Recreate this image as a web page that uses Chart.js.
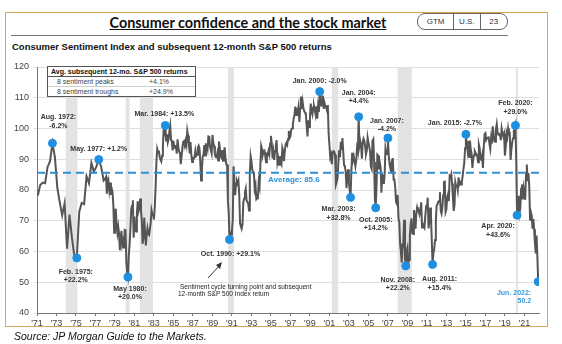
<!DOCTYPE html>
<html>
<head>
<meta charset="utf-8">
<script src="https://cdn.jsdelivr.net/npm/chart.js@4"></script>
<style>
  body { margin: 0; background: #fff; width: 562px; height: 344px; overflow: hidden; position: relative; font-family: "Liberation Sans", Arial, sans-serif; }
  #frame { position: absolute; left: 5px; top: 12px; width: 541px; height: 313px; border: 1.5px solid #d9a660; }
  #title { position: absolute; left: 0; width: 496px; top: 14px; text-align: center; font-family: Lato, sans-serif; font-weight: bold; font-size: 14.4px; text-decoration: underline; color: #111; }
  #rule { position: absolute; left: 11px; top: 35px; width: 497px; height: 0; border-top: 1px solid #777; }
  #pill { position: absolute; left: 417px; top: 13px; width: 89px; height: 15px; border: 1px solid #666; border-radius: 8px; display: flex; font-size: 8px; color: #333; }
  #pill div { display: flex; align-items: center; justify-content: center; }
  #subtitle { position: absolute; left: 12px; top: 41px; font-weight: bold; font-size: 9.5px; color: #111; }
  #source { position: absolute; left: 14px; top: 330px; font-style: italic; font-size: 10.5px; color: #111; }
  #tbl { position: absolute; left: 47px; top: 66px; width: 147px; border: 1px solid #555; background: #fff; font-size: 7px; color: #444; z-index: 2; }
  #tbl .hd { font-weight: bold; padding: 1px 3px; border-bottom: 1px solid #555; color: #111; }
  #tbl .row { display: flex; padding: 1px 0 1px 9px; }
  #tbl .row + .row { border-top: 1px solid #ccc; }
  #tbl .row span:first-child { width: 92px; }
  #chart { position: absolute; left: 0; top: 0; }
</style>
</head>
<body>
<div id="frame"></div>
<div id="title">Consumer confidence and the stock market</div>
<div id="rule"></div>
<div id="pill">
  <div style="width:36px;border-right:1px solid #666">GTM</div>
  <div style="width:26px;border-right:1px solid #666">U.S.</div>
  <div style="width:27px">23</div>
</div>
<div id="subtitle">Consumer Sentiment Index and subsequent 12-month S&amp;P 500 returns</div>
<div id="tbl">
  <div class="hd">Avg. subsequent 12-mo. S&amp;P 500 returns</div>
  <div class="row"><span>8 sentiment peaks</span><span>+4.1%</span></div>
  <div class="row"><span>8 sentiment troughs</span><span>+24.9%</span></div>
</div>
<canvas id="chart" width="562" height="344"></canvas>
<div id="source">Source: JP Morgan Guide to the Markets.</div>

<script>
// quarterly readings 1971-1977 (Feb, May, Aug, Nov)
const quarterly1971to1977 = [
  78.2, 81.6, 82.4, 82.2,
  87.5, 89.3, 95.2, 90.8,
  80.8, 76.0, 71.8, 75.7,
  60.9, 72.0, 64.5, 58.4,
  57.9, 72.9, 75.8, 75.4,
  84.5, 82.2, 88.8, 86.0,
  87.5, 89.9, 87.6, 83.1
];

// monthly readings from Jan 1978 to Jun 2022
const monthly1978to2022 = [
  83.7, 84.3, 78.8, 81.6, 82.9, 80.0, 82.4, 78.4, 80.4, 79.3, 75.0, 66.1,
  72.1, 73.9, 68.4, 66.0, 68.1, 65.8, 60.4, 64.5, 66.7, 62.1, 63.3, 61.0,
  67.0, 66.9, 56.5, 52.7, 51.7, 58.7, 62.3, 67.3, 73.7, 75.0, 76.7, 64.5,
  71.4, 66.9, 66.5, 72.4, 76.3, 73.1, 74.1, 77.2, 73.1, 70.3, 62.5, 64.3,
  71.0, 66.5, 62.0, 65.5, 67.5, 65.7, 65.4, 65.4, 69.3, 73.4, 72.1, 71.9,
  70.4, 74.6, 80.8, 89.1, 93.3, 92.2, 92.8, 90.9, 89.9, 89.3, 91.1, 94.2,
  100.1, 97.4, 101.0, 96.1, 98.1, 95.5, 96.6, 99.1, 100.9, 96.3, 95.7, 92.9,
  96.0, 93.7, 93.7, 94.6, 91.8, 96.5, 94.0, 92.4, 92.1, 88.4, 90.9, 93.9,
  95.6, 95.9, 95.1, 96.2, 94.8, 99.3, 97.7, 94.9, 91.9, 95.6, 91.4, 89.1,
  90.4, 90.2, 90.8, 92.8, 91.1, 91.5, 93.7, 94.4, 93.6, 89.3, 83.1, 86.8,
  90.8, 91.6, 94.6, 91.2, 94.8, 94.7, 93.4, 97.4, 97.3, 94.1, 93.0, 91.9,
  97.9, 95.4, 94.3, 91.5, 90.7, 90.6, 92.0, 89.6, 95.8, 93.9, 90.9, 90.5,
  93.0, 89.5, 91.3, 93.9, 90.6, 88.3, 88.2, 76.4, 72.8, 63.9, 66.0, 65.5,
  66.8, 70.4, 87.7, 81.8, 78.3, 82.1, 82.9, 82.0, 83.0, 78.3, 69.1, 68.2,
  67.5, 68.8, 76.0, 77.2, 79.2, 80.4, 76.6, 76.1, 75.6, 73.3, 85.3, 91.0,
  89.3, 86.6, 85.9, 85.6, 80.3, 81.5, 77.0, 77.3, 77.9, 82.7, 81.2, 88.2,
  94.3, 93.2, 91.5, 92.6, 92.8, 91.2, 89.0, 91.7, 91.5, 92.7, 91.6, 95.1,
  97.6, 95.1, 90.3, 92.5, 89.8, 92.7, 94.4, 96.2, 88.9, 90.2, 88.2, 91.0,
  89.3, 88.5, 93.7, 92.7, 89.4, 92.4, 94.7, 95.3, 94.7, 96.5, 99.2, 96.9,
  97.4, 99.7, 100.0, 101.4, 103.2, 104.5, 107.1, 104.4, 106.0, 105.6, 107.2, 102.1,
  106.6, 110.4, 106.5, 108.7, 106.5, 105.6, 105.2, 104.4, 100.9, 97.4, 102.7, 100.5,
  103.9, 108.1, 105.7, 104.6, 106.8, 107.3, 106.0, 104.5, 107.2, 103.2, 107.2, 105.4,
  112.0, 111.3, 107.1, 109.2, 110.7, 106.4, 108.3, 107.3, 106.8, 105.8, 107.6, 98.4,
  94.7, 90.6, 91.5, 88.4, 92.0, 92.6, 92.4, 91.5, 81.8, 82.7, 83.9, 88.8,
  93.0, 90.7, 95.7, 93.0, 96.9, 92.4, 88.1, 87.6, 86.1, 80.6, 84.2, 86.7,
  82.4, 79.9, 77.6, 86.0, 92.1, 89.7, 90.9, 89.3, 87.7, 89.6, 93.7, 92.6,
  103.8, 94.4, 95.8, 94.2, 90.2, 95.6, 96.7, 95.9, 94.2, 91.7, 92.8, 97.1,
  95.5, 94.1, 92.6, 87.7, 86.9, 96.0, 96.5, 89.1, 76.9, 74.2, 81.6, 91.5,
  91.2, 86.7, 88.9, 87.4, 79.1, 84.9, 84.7, 82.0, 85.4, 93.6, 92.1, 91.7,
  96.9, 91.3, 88.4, 87.1, 88.3, 85.3, 90.4, 83.4, 83.4, 80.9, 76.1, 75.5,
  78.4, 70.8, 69.5, 62.6, 59.8, 56.4, 61.2, 63.0, 70.3, 57.6, 55.3, 60.1,
  61.2, 56.3, 57.3, 65.1, 68.7, 70.8, 66.0, 65.7, 73.5, 70.6, 67.4, 72.5,
  74.4, 73.6, 73.6, 72.2, 73.6, 76.0, 67.8, 68.9, 68.2, 67.7, 71.6, 74.5,
  74.2, 77.5, 67.5, 69.8, 74.3, 71.5, 63.7, 55.8, 59.5, 60.8, 63.7, 69.9,
  75.0, 75.3, 76.2, 76.4, 79.3, 73.2, 72.3, 74.3, 78.3, 82.6, 82.7, 72.9,
  73.8, 77.6, 78.6, 76.4, 84.5, 84.1, 85.1, 82.1, 77.5, 73.2, 75.1, 82.5,
  81.2, 81.6, 80.0, 84.1, 81.9, 82.5, 81.8, 82.5, 84.6, 86.9, 88.8, 93.6,
  98.1, 95.4, 93.0, 95.9, 90.7, 96.1, 93.1, 91.9, 87.2, 90.0, 91.3, 92.6,
  92.0, 91.7, 91.0, 89.0, 94.7, 93.5, 90.0, 89.8, 91.2, 87.2, 93.8, 98.2,
  98.5, 96.3, 96.9, 97.0, 97.1, 95.0, 93.4, 96.8, 95.1, 100.7, 98.5, 95.9,
  95.7, 99.7, 101.4, 98.8, 98.0, 98.2, 97.9, 96.2, 100.1, 98.6, 97.5, 98.3,
  91.2, 93.8, 98.4, 97.2, 100.0, 98.2, 98.4, 89.8, 93.2, 95.5, 96.8, 99.3,
  99.8, 101.0, 89.1, 71.8, 72.3, 78.1, 72.5, 74.1, 80.4, 81.8, 76.9, 80.7,
  79.0, 76.8, 84.9, 88.3, 82.9, 85.5, 81.2, 70.3, 72.8, 71.7, 67.4, 70.6,
  67.2, 62.8, 59.4, 65.2, 58.4, 50.2
];

const averageSentiment = 85.6;

// peaks and troughs: year, month (1-12), label lines
const markerYears  = [1972, 1975, 1977, 1980, 1984, 1990, 2000, 2003, 2004, 2005, 2007, 2008, 2011, 2015, 2020, 2020, 2022];
const markerMonths = [8, 2, 5, 5, 3, 10, 1, 3, 1, 10, 1, 11, 8, 1, 2, 4, 6];
const markerLabels = [
  ['Aug. 1972:', '-6.2%'], ['Feb. 1975:', '+22.2%'], ['May. 1977: +1.2%'], ['May 1980:', '+20.0%'],
  ['Mar. 1984: +13.5%'], ['Oct. 1990: +29.1%'], ['Jan. 2000: -2.0%'], ['Mar. 2003:', '+32.8%'],
  ['Jan. 2004:', '+4.4%'], ['Oct. 2005:', '+14.2%'], ['Jan. 2007:', '-4.2%'], ['Nov. 2008:', '+22.2%'],
  ['Aug. 2011:', '+15.4%'], ['Jan. 2015: -2.7%'], ['Feb. 2020:', '+29.0%'], ['Apr. 2020:', '+43.6%'],
  ['Jun. 2022:', '50.2']
];

// recessions (decimal years)
const recessionStarts = [1973.95, 1980.1, 1981.55, 1990.6, 2001.25, 2008.0, 2020.12];
const recessionEnds   = [1975.15, 1980.5, 1982.9, 1991.2, 2001.9, 2009.45, 2020.35];

const tickYears = [];
for (let y = 1971; y <= 2021; y += 2) tickYears.push(y);

// label placement relative to each dot (dx, dy of first line, align)
const labelOffsets = [
  [6, -26, 'center'], [-1, 14, 'center'], [0, -10, 'center'], [2, 12, 'center'],
  [-1, -11, 'center'], [1, 15, 'center'], [0, -11, 'center'], [-12, 12, 'center'],
  [0, -24, 'center'], [0, 12, 'center'], [-1, -17, 'center'], [-8, 14, 'center'],
  [7, 15, 'center'], [-11, -11, 'center'], [0, -22, 'center'], [-19, 11, 'center'],
  [-7, 11, 'right']
];

// build series
const sentimentPoints = [];
quarterly1971to1977.forEach((v, i) => {
  const year = 1971 + Math.floor(i / 4);
  const month = 1 + (i % 4) * 3; // Feb, May, Aug, Nov (0-based)
  sentimentPoints.push({ x: year + month / 12, y: v });
});
monthly1978to2022.forEach((v, i) => {
  sentimentPoints.push({ x: 1978 + i / 12, y: v });
});

function valueAt(year, month) {
  const x = year + (month - 1) / 12;
  let best = sentimentPoints[0];
  sentimentPoints.forEach(p => { if (Math.abs(p.x - x) < Math.abs(best.x - x)) best = p; });
  return best;
}
const markerPoints = markerYears.map((y, i) => valueAt(y, markerMonths[i]));

const BLUE = '#1f8fe0';

const recessionPlugin = {
  id: 'recessions',
  beforeDatasetsDraw(chart) {
    const { ctx, chartArea, scales } = chart;
    ctx.save();
    ctx.fillStyle = '#e3e3e3';
    recessionStarts.forEach((s, i) => {
      const x0 = scales.x.getPixelForValue(s);
      const x1 = scales.x.getPixelForValue(recessionEnds[i]);
      ctx.fillRect(x0, chartArea.top, x1 - x0, chartArea.bottom - chartArea.top);
    });
    ctx.restore();
  }
};

const labelPlugin = {
  id: 'markerLabels',
  afterDatasetsDraw(chart) {
    const { ctx, scales } = chart;
    ctx.save();
    ctx.font = 'bold 7px "Liberation Sans", Arial, sans-serif';
    ctx.textBaseline = 'middle';
    markerPoints.forEach((p, i) => {
      const px = scales.x.getPixelForValue(p.x);
      const py = scales.y.getPixelForValue(p.y);
      const [dx, dy, align] = labelOffsets[i];
      ctx.textAlign = align;
      ctx.fillStyle = i === markerPoints.length - 1 ? '#3a9ae0' : '#333';
      markerLabels[i].forEach((line, j) => ctx.fillText(line, px + dx, py + dy + j * 8.5));
    });

    // average label
    ctx.fillStyle = '#2e8fd5';
    ctx.font = 'bold 8px "Liberation Sans", Arial, sans-serif';
    ctx.textAlign = 'left';
    ctx.fillText('Average: ' + averageSentiment, 268, scales.y.getPixelForValue(averageSentiment) + 7);

    // explanatory note with arrow
    ctx.fillStyle = '#222';
    ctx.font = '6.5px "Liberation Sans", Arial, sans-serif';
    ctx.fillText('Sentiment cycle turning point and subsequent', 180, 287);
    ctx.fillText('12-month S&P 500 Index return', 178, 294);
    ctx.strokeStyle = '#333';
    ctx.lineWidth = 1;
    ctx.beginPath();
    ctx.moveTo(208, 278);
    ctx.lineTo(220, 265);
    ctx.stroke();
    ctx.fillStyle = '#333';
    ctx.beginPath();
    ctx.moveTo(222, 262);
    ctx.lineTo(216, 265);
    ctx.lineTo(220, 269);
    ctx.closePath();
    ctx.fill();
    ctx.restore();
  }
};

new Chart(document.getElementById('chart'), {
  type: 'scatter',
  data: {
    datasets: [
      {
        label: 'Peaks and troughs',
        data: markerPoints,
        backgroundColor: BLUE,
        borderColor: BLUE,
        pointRadius: 4,
        showLine: false,
        order: 0
      },
      {
        label: 'Average',
        data: [{ x: 1971, y: averageSentiment }, { x: 2022.5, y: averageSentiment }],
        showLine: true,
        borderColor: '#2e8fd5',
        borderWidth: 2,
        borderDash: [8, 5],
        pointRadius: 0,
        order: 1
      },
      {
        label: 'Consumer Sentiment',
        data: sentimentPoints,
        showLine: true,
        borderColor: '#555',
        borderWidth: 2,
        pointRadius: 0,
        tension: 0,
        order: 2
      }
    ]
  },
  options: {
    responsive: false,
    animation: false,
    layout: { padding: { left: 0, top: 67, right: 23, bottom: 0 } },
    plugins: { legend: { display: false }, tooltip: { enabled: false } },
    scales: {
      x: {
        type: 'linear',
        min: 1971,
        max: 2022.5,
        afterFit(scale) { scale.height = 31; },
        afterBuildTicks(scale) { scale.ticks = tickYears.map(v => ({ value: v })); },
        ticks: {
          autoSkip: false,
          maxRotation: 0,
          padding: 2,
          color: '#444',
          font: { size: 9, family: '"Liberation Sans", Arial, sans-serif' },
          callback: v => "'" + String(v).slice(2)
        },
        grid: { drawOnChartArea: false, drawTicks: true, tickLength: 3, color: '#777' },
        border: { color: '#777', width: 1 }
      },
      y: {
        min: 40,
        max: 120,
        afterFit(scale) { scale.width = 37; },
        ticks: {
          stepSize: 10,
          padding: 5,
          color: '#444',
          font: { size: 9, family: '"Liberation Sans", Arial, sans-serif' }
        },
        grid: { color: '#dedede', drawTicks: true, tickLength: 3 },
        border: { color: '#777', width: 1 }
      }
    }
  },
  plugins: [recessionPlugin, labelPlugin]
});
</script>
</body>
</html>
